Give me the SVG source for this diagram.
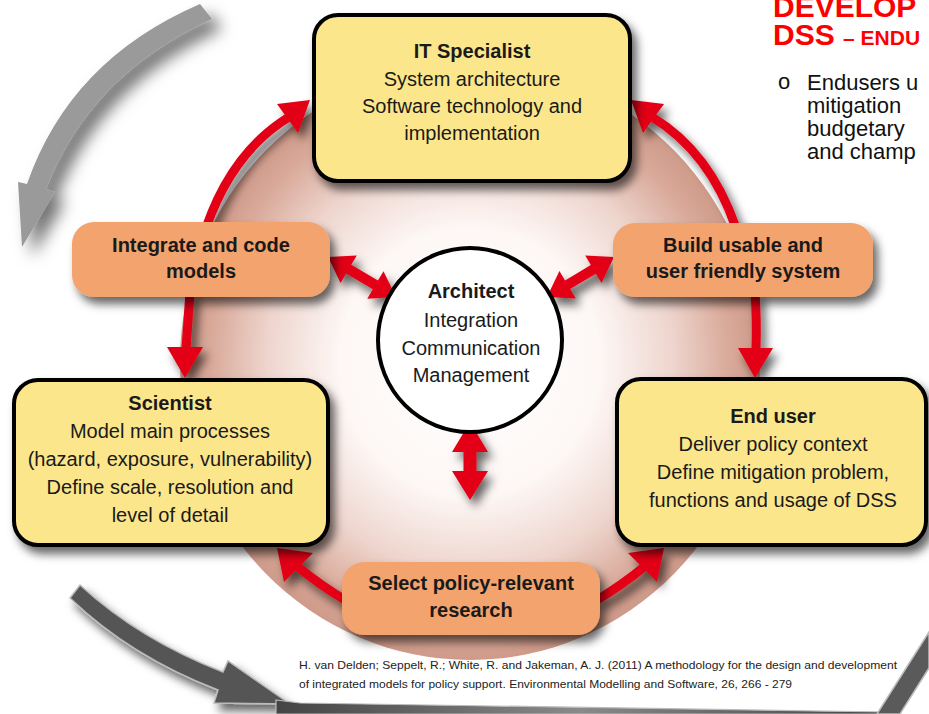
<svg xmlns="http://www.w3.org/2000/svg" width="929" height="714" viewBox="0 0 929 714">
<defs>
<style>
.box{fill:#fce68b;stroke:#000;stroke-width:4}
.act{fill:#f3a36d}
.t{font-family:"Liberation Sans",Arial,sans-serif;font-size:20px;fill:#1a1a1a;text-anchor:middle}
.b{font-weight:bold}
.red{fill:#e30613}
.shaft{fill:none;stroke:#e30613;stroke-width:9}
.title{font-family:"Liberation Sans",Arial,sans-serif;font-weight:bold;fill:#ff0000}
.body{font-family:"Liberation Sans",Arial,sans-serif;font-size:22px;fill:#111}
.cite{font-family:"Liberation Sans",Arial,sans-serif;font-size:11.5px;fill:#222}
</style>
<radialGradient id="ring" cx="0.5" cy="0.5" r="0.5">
<stop offset="0" stop-color="#ffffff"/>
<stop offset="0.45" stop-color="#fdf7f5"/>
<stop offset="0.7" stop-color="#eed5cd"/>
<stop offset="0.9" stop-color="#d8a898"/>
<stop offset="1" stop-color="#cf9a8a"/>
</radialGradient>
<linearGradient id="band" x1="0" y1="0" x2="1" y2="0">
<stop offset="0" stop-color="#444"/>
<stop offset="0.5" stop-color="#8a8a8a"/>
<stop offset="1" stop-color="#444"/>
</linearGradient>
<filter id="sh" x="-20%" y="-20%" width="150%" height="160%">
<feGaussianBlur in="SourceAlpha" stdDeviation="5"/>
<feOffset dx="5" dy="7" result="o"/>
<feFlood flood-color="#000" flood-opacity="0.6"/>
<feComposite in2="o" operator="in"/>
<feMerge><feMergeNode/><feMergeNode in="SourceGraphic"/></feMerge>
</filter>
<filter id="sh2" x="-30%" y="-30%" width="180%" height="180%">
<feGaussianBlur in="SourceAlpha" stdDeviation="8"/>
<feOffset dx="10" dy="10" result="o"/>
<feFlood flood-color="#000" flood-opacity="0.55"/>
<feComposite in2="o" operator="in"/>
<feMerge><feMergeNode/><feMergeNode in="SourceGraphic"/></feMerge>
</filter>
</defs>
<rect width="929" height="714" fill="#ffffff"/>

<!-- background ring -->
<ellipse cx="470" cy="362" rx="290" ry="298" fill="url(#ring)"/>

<!-- gray cycle arrows -->
<g id="gray-arrows">
<path d="M 200 4 Q 70 60 27 184 L 18 182 L 22 247 L 55 192 L 46 189 Q 90 75 212 19 Z" fill="#9a9a9a" filter="url(#sh2)"/>
<path d="M 80 585 Q 140 640 223 672 L 228 661 L 290 704 L 214 703 L 218 690 Q 130 656 70 598 Z" fill="#555" stroke="#bbb" stroke-width="1.5" filter="url(#sh)"/>
<path d="M 276 700 L 300 703 Q 600 708 885 712 L 885 714 L 276 714 Z" fill="url(#band)" stroke="#bbb" stroke-width="1.2"/>
<path d="M 877 714 L 929 632 L 929 668 L 900 714 Z" fill="#5a5a5a" stroke="#bbb" stroke-width="1.5"/>
</g>

<!-- connectors -->
<g id="connectors" filter="url(#sh)">
<path class="shaft" d="M 206 228 Q 232 152 289 117"/>
<polygon class="red" points="310,100 277,104 298,133"/>
<path class="shaft" d="M 736 228 Q 710 152 652 117"/>
<polygon class="red" points="631,100 664,104 643,133"/>
<path class="shaft" d="M 190 292 Q 188 320 186 349"/>
<polygon class="red" points="185,378 167,347 203,347"/>
<path class="shaft" d="M 755 292 Q 757 320 756 350"/>
<polygon class="red" points="755,378 738,348 773,348"/>
<path class="shaft" d="M 345 600 Q 320 585 298 567"/>
<polygon class="red" points="277,548 284,582 313,553"/>
<path class="shaft" d="M 597 600 Q 622 585 644 567"/>
<polygon class="red" points="664,548 657,582 628,553"/>
<polygon class="red" transform="translate(328,257) rotate(30.5)" points="0,0 24,-16 24,-5 55,-5 55,-16 79,0 55,16 55,5 24,5 24,16"/>
<polygon class="red" transform="translate(547,297) rotate(-30.8)" points="0,0 24,-16 24,-5 54,-5 54,-16 78,0 54,16 54,5 24,5 24,16"/>
<polygon class="red" points="470,422 488,452 476.5,452 476.5,471 488,471 470,500 452,471 463.5,471 463.5,452 452,452"/>
</g>

<!-- nodes -->
<g id="it-specialist">
<rect class="box" x="314" y="15" width="316" height="166" rx="24" filter="url(#sh)"/>
<text class="t b" x="472" y="58">IT Specialist</text>
<text class="t" x="472" y="86">System architecture</text>
<text class="t" x="472" y="113">Software technology and</text>
<text class="t" x="472" y="140">implementation</text>
</g>

<g id="integrate">
<rect class="act" x="72" y="222" width="258" height="75" rx="22" filter="url(#sh)"/>
<text class="t b" x="201" y="252">Integrate and code</text>
<text class="t b" x="201" y="278">models</text>
</g>

<g id="build">
<rect class="act" x="613" y="223" width="260" height="74" rx="22" filter="url(#sh)"/>
<text class="t b" x="743" y="252">Build usable and</text>
<text class="t b" x="743" y="278">user friendly system</text>
</g>

<g id="architect">
<circle cx="470" cy="340" r="92" fill="#fff" stroke="#000" stroke-width="4"/>
<text class="t b" x="471" y="298">Architect</text>
<text class="t" x="471" y="327">Integration</text>
<text class="t" x="471" y="355">Communication</text>
<text class="t" x="471" y="382">Management</text>
</g>

<g id="scientist">
<rect class="box" x="14" y="380" width="314" height="165" rx="24" filter="url(#sh)"/>
<text class="t b" x="170" y="410">Scientist</text>
<text class="t" x="170" y="438">Model main processes</text>
<text class="t" x="170" y="466">(hazard, exposure, vulnerability)</text>
<text class="t" x="170" y="494">Define scale, resolution and</text>
<text class="t" x="170" y="522">level of detail</text>
</g>

<g id="end-user">
<rect class="box" x="617" y="379" width="309" height="166" rx="24" filter="url(#sh)"/>
<text class="t b" x="773" y="423">End user</text>
<text class="t" x="773" y="451">Deliver policy context</text>
<text class="t" x="773" y="479">Define mitigation problem,</text>
<text class="t" x="773" y="507">functions and usage of DSS</text>
</g>

<g id="select">
<rect class="act" x="342" y="562" width="258" height="73" rx="22" filter="url(#sh)"/>
<text class="t b" x="471" y="590">Select policy-relevant</text>
<text class="t b" x="471" y="617">research</text>
</g>

<!-- slide text -->
<g id="slide-text">
<text class="title" x="773" y="17" font-size="30">DEVELOP</text>
<text class="title" x="773" y="45" font-size="30">DSS <tspan font-size="21">– ENDU</tspan></text>
<text class="body" x="778" y="89" font-size="20">o</text>
<text class="body" x="807" y="90">Endusers u</text>
<text class="body" x="807" y="113">mitigation</text>
<text class="body" x="807" y="136">budgetary</text>
<text class="body" x="807" y="159">and champ</text>
<text class="cite" x="299" y="669" textLength="598" lengthAdjust="spacingAndGlyphs">H. van Delden; Seppelt, R.; White, R. and Jakeman, A. J. (2011) A methodology for the design and development</text>
<text class="cite" x="299" y="688" textLength="493" lengthAdjust="spacingAndGlyphs">of integrated models for policy support. Environmental Modelling and Software, 26, 266 - 279</text>
</g>
</svg>
